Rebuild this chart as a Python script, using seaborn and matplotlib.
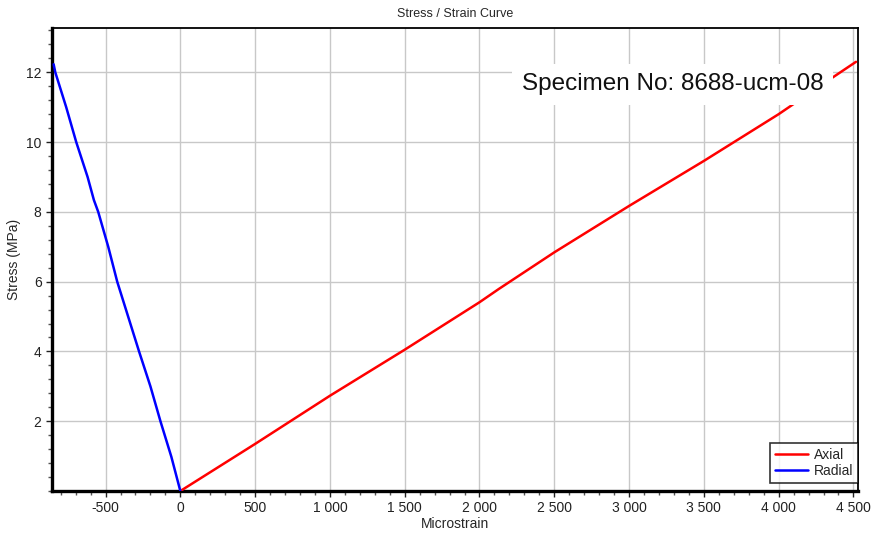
import pandas as pd
import numpy as np
import seaborn as sns
import matplotlib.pyplot as plt
from matplotlib.ticker import MultipleLocator, FuncFormatter

# Values
axial_strain = [0, 500, 1000, 1500, 2000, 2129, 2500, 3000, 3500, 4000, 4329, 4517]
axial_stress = [0, 1.35, 2.73, 4.05, 5.41, 5.79, 6.84, 8.17, 9.46, 10.80, 11.76, 12.30]
radial_strain = [0, -60, -133, -200, -276, -349, -422, -482, -549, -578, -620, -696, -763, -836, -847]
radial_stress = [0, 0.98, 2, 3, 4, 5, 6, 7, 8, 8.34, 9, 10, 11, 12, 12.23]
x_ticks = [-500, 0, 500, 1000, 1500, 2000, 2500, 3000, 3500, 4000, 4500]
y_ticks = [2, 4, 6, 8, 10, 12]
specimen = "Specimen No: 8688-ucm-08"

df = pd.concat([
    pd.DataFrame({"Microstrain": axial_strain, "Stress": axial_stress, "Series": "Axial"}),
    pd.DataFrame({"Microstrain": radial_strain, "Stress": radial_stress, "Series": "Radial"}),
])

sns.set_style("white")
plt.rcParams['font.family'] = ['Liberation Sans', 'DejaVu Sans']

fig = plt.figure(figsize=(8.71, 5.35), dpi=100)
ax = fig.add_axes([0.0597, 0.0822, 0.9253, 0.8655])

sns.lineplot(data=df, x="Microstrain", y="Stress", hue="Series", sort=False,
             estimator=None, palette={"Axial": "#ff0000", "Radial": "#0000ff"},
             linewidth=1.8, ax=ax, zorder=3)

ax.set_xlim(-858, 4530)
ax.set_ylim(0, 13.27)
ax.set_xticks(x_ticks)
ax.set_yticks(y_ticks)
ax.xaxis.set_minor_locator(MultipleLocator(100))
ax.yaxis.set_minor_locator(MultipleLocator(0.4))
ax.xaxis.set_major_formatter(FuncFormatter(lambda v, p: f"{int(v):,}".replace(",", " ")))
ax.yaxis.set_major_formatter(FuncFormatter(lambda v, p: f"{int(v)}"))
ax.grid(True, which="major", color="#c8c8c8", linewidth=1.0)
ax.set_axisbelow(True)

ax.tick_params(which="major", direction="out", length=4, width=1, labelsize=10, colors="#222222",
               bottom=True, left=True)
ax.tick_params(which="minor", direction="out", length=3, width=1, color="#555555",
               bottom=True, left=True)

for side in ["left", "bottom"]:
    ax.spines[side].set_linewidth(2.4)
    ax.spines[side].set_color("black")
for side in ["top", "right"]:
    ax.spines[side].set_linewidth(1.3)
    ax.spines[side].set_color("black")

ax.set_xlabel("Microstrain", fontsize=10, labelpad=1)
ax.set_ylabel("Stress (MPa)", fontsize=10, labelpad=4)
ax.set_title("Stress / Strain Curve", fontsize=9, pad=8)

ax.text(0.770, 0.878, specimen, transform=ax.transAxes, ha="center", va="center",
        fontsize=17.5, color="#111111", zorder=5,
        bbox=dict(facecolor="white", edgecolor="none", pad=7))

leg = ax.legend(loc="lower right", bbox_to_anchor=(1.0, 0.017), fontsize=10, frameon=True,
                fancybox=False, borderaxespad=0, handlelength=2.4, handletextpad=0.4,
                borderpad=0.35, labelspacing=0.2)
leg.get_frame().set_edgecolor("black")
leg.get_frame().set_linewidth(1.2)
leg.set_title(None)

fig.savefig("out.png", dpi=100)
